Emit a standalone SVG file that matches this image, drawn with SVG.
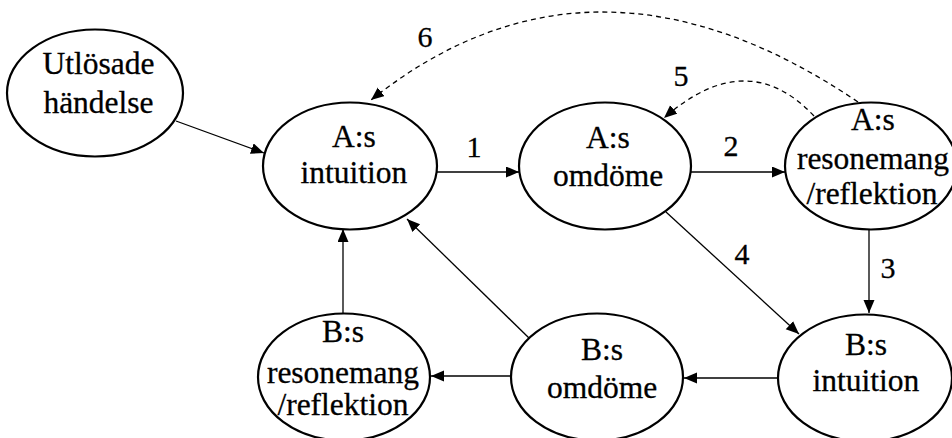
<svg xmlns="http://www.w3.org/2000/svg" width="952" height="438" viewBox="0 0 952 438">
<style>
.node ellipse{fill:#fff;stroke:#000;stroke-width:2.2}
.node text{font-family:'Liberation Serif','Times New Roman',serif;font-size:31.5px;fill:#000;stroke:#000;stroke-width:0.3;text-anchor:middle}
.edge{fill:none;stroke:#000;stroke-width:1.3}
.dash{stroke-dasharray:5,4}
.lbl{font-family:'Liberation Serif','Times New Roman',serif;font-size:30px;fill:#000;stroke:#000;stroke-width:0.3;text-anchor:middle}
</style>
<defs>
<marker id="ah" markerUnits="userSpaceOnUse" markerWidth="14" markerHeight="12" refX="13" refY="5.5" orient="auto">
<path d="M0,0 L13,5.5 L0,11 z" fill="#000"/>
</marker>
</defs>
<rect width="952" height="438" fill="#fff"/>
<g id="connectors">
<line class="edge" x1="176" y1="121" x2="264" y2="153" marker-end="url(#ah)"/>
<line class="edge" x1="437" y1="172" x2="519" y2="172" marker-end="url(#ah)"/>
<line class="edge" x1="691" y1="172" x2="785" y2="172" marker-end="url(#ah)"/>
<line class="edge" x1="869" y1="229" x2="869" y2="313" marker-end="url(#ah)"/>
<line class="edge" x1="666" y1="212" x2="799" y2="334" marker-end="url(#ah)"/>
<line class="edge" x1="778" y1="378" x2="684" y2="378" marker-end="url(#ah)"/>
<line class="edge" x1="511" y1="376" x2="431" y2="376" marker-end="url(#ah)"/>
<line class="edge" x1="529" y1="338" x2="407" y2="219" marker-end="url(#ah)"/>
<line class="edge" x1="343" y1="313" x2="343" y2="229" marker-end="url(#ah)"/>
<path class="edge dash" d="M858,102 Q593,-77 371,100" marker-end="url(#ah)"/>
<path class="edge dash" d="M814,116 Q747,45 664,118" marker-end="url(#ah)"/>
<text class="lbl" x="474" y="157">1</text>
<text class="lbl" x="731" y="156">2</text>
<text class="lbl" x="888" y="278">3</text>
<text class="lbl" x="742" y="264">4</text>
<text class="lbl" x="681" y="86">5</text>
<text class="lbl" x="425" y="47">6</text>
</g>
<g id="utlosade" class="node">
<ellipse cx="95" cy="93" rx="88" ry="63.5"/>
<text x="98.5" y="74">Utlösade</text>
<text x="98.5" y="113">händelse</text>
</g>
<g id="a-intuition" class="node">
<ellipse cx="350" cy="166" rx="87" ry="63.5"/>
<text x="354" y="147">A:s</text>
<text x="354" y="183">intuition</text>
</g>
<g id="a-omdome" class="node">
<ellipse cx="605" cy="166" rx="86" ry="63.5"/>
<text x="608" y="148">A:s</text>
<text x="608" y="186">omdöme</text>
</g>
<g id="a-resonemang" class="node">
<ellipse cx="871" cy="166" rx="86" ry="63.5"/>
<text x="873" y="130">A:s</text>
<text x="873" y="169">resonemang</text>
<text x="872" y="204">/reflektion</text>
</g>
<g id="b-intuition" class="node">
<ellipse cx="865" cy="378" rx="87" ry="63.5"/>
<text x="866" y="355">B:s</text>
<text x="866" y="391">intuition</text>
</g>
<g id="b-omdome" class="node">
<ellipse cx="597" cy="377" rx="86" ry="63.5"/>
<text x="602" y="360">B:s</text>
<text x="602" y="398">omdöme</text>
</g>
<g id="b-resonemang" class="node">
<ellipse cx="344" cy="377" rx="86" ry="63.5"/>
<text x="343" y="342">B:s</text>
<text x="343" y="383">resonemang</text>
<text x="343" y="415">/reflektion</text>
</g>
</svg>
